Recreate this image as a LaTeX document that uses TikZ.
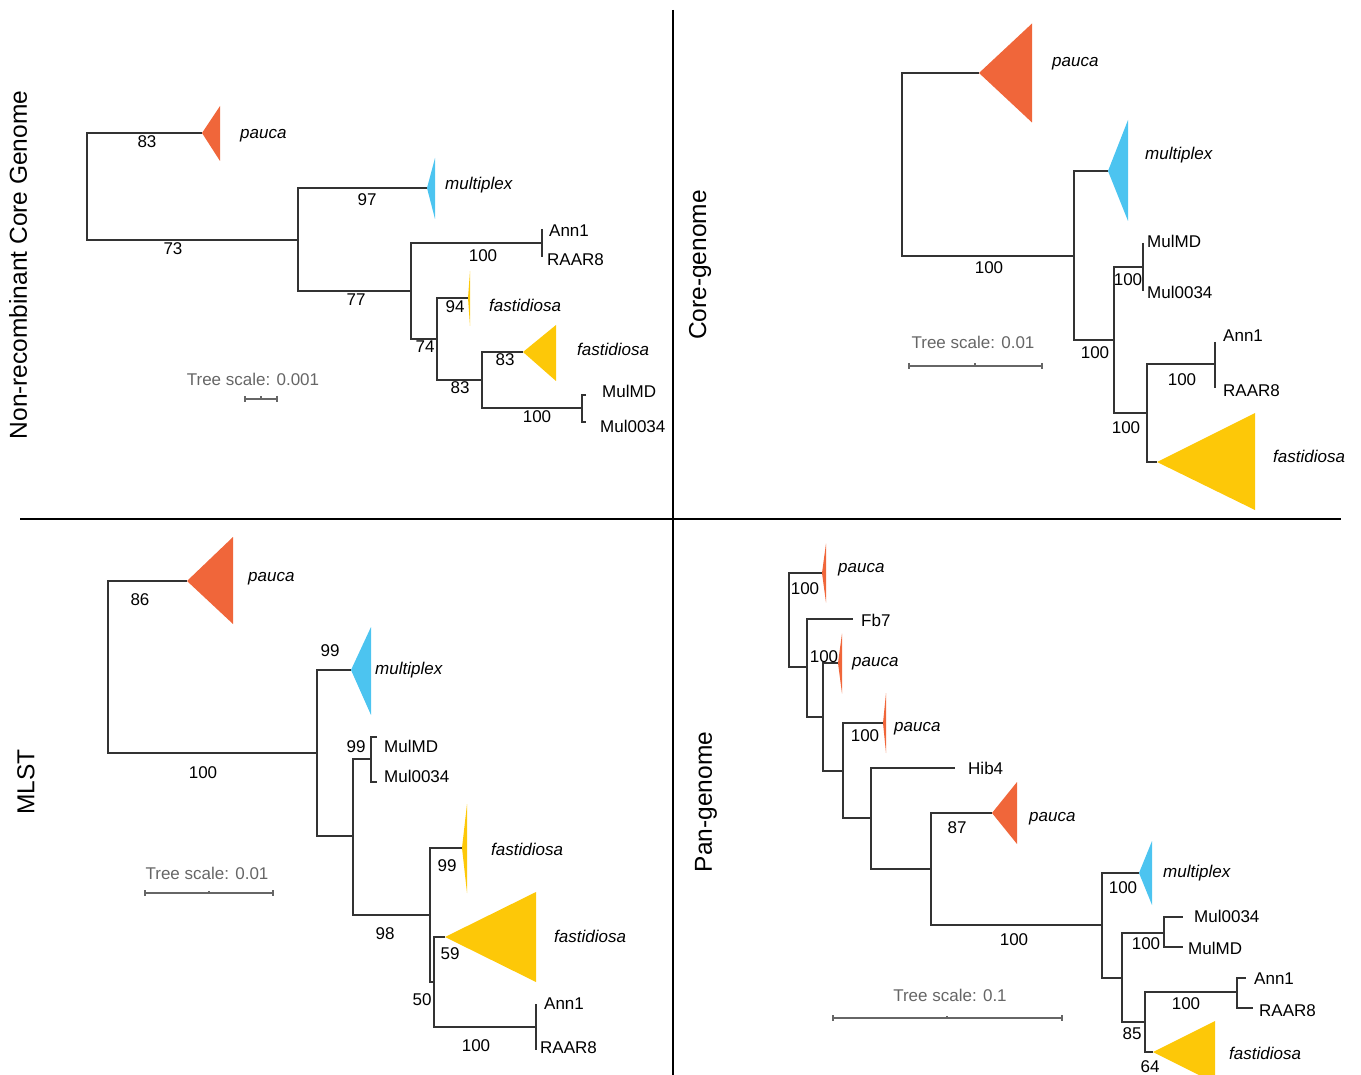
\documentclass[tikz,border=0pt]{standalone}
\usepackage{fontspec}
\setmainfont{Liberation Sans}
\definecolor{cpau}{HTML}{F0663A}
\definecolor{cmul}{HTML}{4CC4F0}
\definecolor{cfas}{HTML}{FDC808}
\tikzset{
 br/.style={draw=black!80, line width=1.4pt},
 lbl/.style={font=\fontsize{17}{17}\selectfont, inner sep=0pt, text height=12pt, text depth=0pt},
 leaf/.style={lbl, anchor=west},
 clade/.style={leaf, font=\fontsize{17}{17}\selectfont\itshape},
 bs/.style={lbl},
 scl/.style={lbl, text=black!60},
 sbar/.style={draw=black!60, line width=1.2pt},
 ttl/.style={font=\fontsize{24.5}{24.5}\selectfont, rotate=90, inner sep=0pt},
 divline/.style={draw=black, line width=1.8pt}
}
\begin{document}
\begin{tikzpicture}[x=1pt,y=-1pt]
\useasboundingbox (0,0) rectangle (1361,1075);
\begin{scope}
\clip (0,0) rectangle (1361,1075);
% ---------- dividers
\coordinate (v1) at (673,10); \coordinate (v2) at (673,1075);
\coordinate (h1) at (20,519); \coordinate (h2) at (1341,519);
\draw[divline] (v1) -- (v2);
\draw[divline] (h1) -- (h2);

% ================= Q1: Non-recombinant core genome
\node[ttl] (t1) at (18,265) {Non-recombinant Core Genome};
\coordinate (a0) at (87,186);
\coordinate (a1) at (202,133);
\coordinate (a2) at (298,240);
\coordinate (a3) at (427,188);
\coordinate (a4) at (411,291);
\coordinate (a5) at (542,243);
\coordinate (a6) at (437,339);
\coordinate (a7) at (468,298);
\coordinate (a8) at (482,380);
\coordinate (a9) at (523,352);
\coordinate (a10) at (582,408);
\draw[br] (a0) |- (a1) (a0) |- (a2) (a2) |- (a3) (a2) |- (a4)
 (a4) |- (a5) (a4) |- (a6) (a6) |- (a7) (a6) |- (a8) (a8) |- (a9) (a8) |- (a10);
\draw[br] (a5) ++(0,-14) -- ++(0,28);
\draw[br] (a10) ++(4,-13) -- ++(-4,0) -- ++(0,27) -- ++(4,0);
\fill[cpau] (a1) -- ++(18,-27) -- ++(0,55) -- cycle;
\fill[cmul] (a3) -- ++(8,-30) -- ++(0,61) -- cycle;
\fill[cfas] (a7) -- ++(2,-27) -- ++(0,55) -- cycle;
\fill[cfas] (a9) -- ++(33,-27) -- ++(0,56) -- cycle;
\node[clade] (a1l) at (240,133) {pauca};
\node[bs] at (147,142) {83};
\node[bs] at (173,249) {73};
\node[clade] (a3l) at (445,184) {multiplex};
\node[bs] at (367,200) {97};
\node[bs] at (356,300) {77};
\node[leaf] (ann1a) at (549,231) {Ann1};
\node[leaf] (raara) at (547,260) {RAAR8};
\node[bs] at (483,256) {100};
\node[clade] (a7l) at (489,306) {fastidiosa};
\node[bs] at (455,307) {94};
\node[bs] at (425,347) {74};
\node[clade] (a9l) at (577,350) {fastidiosa};
\node[bs] at (505,360) {83};
\node[bs] at (460,388) {83};
\node[leaf] (mmda) at (602,392) {MulMD};
\node[leaf] (m34a) at (600,426) {Mul0034};
\node[bs] at (537,416) {100};
\node[scl] (sc1) at (253,380) {Tree scale: 0.001};
\coordinate (s1a) at (245,399); \coordinate (s1b) at (277,399); \coordinate (s1m) at (261,399);
\draw[sbar] (s1a) -- (s1b) (s1a) ++(0,-3) -- ++(0,6) (s1b) ++(0,-3) -- ++(0,6) (s1m) -- ++(0,-2.5);

% ================= Q2: Core genome
\node[ttl] (t2) at (700,265) {Core-genome};
\coordinate (b0) at (902,165);
\coordinate (b1) at (979,73);
\coordinate (b2) at (1074,256);
\coordinate (b3) at (1108,171);
\coordinate (b4) at (1114,340);
\coordinate (b5) at (1143,267);
\coordinate (b6) at (1147,413);
\coordinate (b7) at (1215,364);
\coordinate (b8) at (1157,462);
\draw[br] (b0) |- (b1) (b0) |- (b2) (b2) |- (b3) (b2) |- (b4)
 (b4) |- (b5) (b4) |- (b6) (b6) |- (b7) (b6) |- (b8);
\draw[br] (b5) ++(0,-24) -- ++(0,48);
\draw[br] (b7) ++(0,-22) -- ++(0,46);
\fill[cpau] (b1) -- ++(53,-49.5) -- ++(0,99) -- cycle;
\fill[cmul] (b3) -- ++(20,-51) -- ++(0,101) -- cycle;
\fill[cfas] (b8) -- ++(98,-49) -- ++(0,97) -- cycle;
\node[clade] (b1l) at (1052,61) {pauca};
\node[clade] (b3l) at (1145,154) {multiplex};
\node[bs] at (989,268) {100};
\node[leaf] (mmdb) at (1147,242) {MulMD};
\node[leaf] (m34b) at (1147,293) {Mul0034};
\node[bs] at (1128,280) {100};
\node[bs] at (1095,353) {100};
\node[leaf] (ann1b) at (1223,336) {Ann1};
\node[leaf] (raarb) at (1223,390) {RAAR8};
\node[bs] at (1182,379) {100};
\node[bs] at (1126,427) {100};
\node[clade] (b8l) at (1273,456) {fastidiosa};
\node[scl] (sc2) at (973,343) {Tree scale: 0.01};
\coordinate (s2a) at (909,366); \coordinate (s2b) at (1042,366); \coordinate (s2m) at (975,366);
\draw[sbar] (s2a) -- (s2b) (s2a) ++(0,-3) -- ++(0,6) (s2b) ++(0,-3) -- ++(0,6) (s2m) -- ++(0,-2.5);

% ================= Q3: MLST
\node[ttl] (t3) at (26,782) {MLST};
\coordinate (c0) at (108,667);
\coordinate (c1) at (187,581);
\coordinate (c2) at (317,753);
\coordinate (c3) at (351,670);
\coordinate (c4) at (353,836);
\coordinate (c5) at (371,759);
\coordinate (c6) at (430,915);
\coordinate (c7) at (462,848);
\coordinate (c8) at (434,982);
\coordinate (c9) at (445,937);
\coordinate (c10) at (536,1027);
\draw[br] (c0) |- (c1) (c0) |- (c2) (c2) |- (c3) (c2) |- (c4)
 (c4) |- (c5) (c4) |- (c6) (c6) |- (c7) (c6) |- (c8) (c8) |- (c9) (c8) |- (c10);
\draw[br] (c5) ++(6,-22) -- ++(-6,0) -- ++(0,45) -- ++(6,0);
\draw[br] (c10) ++(0,-23) -- ++(0,46);
\fill[cpau] (c1) -- ++(46,-44) -- ++(0,87) -- cycle;
\fill[cmul] (c3) -- ++(20,-43) -- ++(0,88) -- cycle;
\fill[cfas] (c7) -- ++(5,-44) -- ++(0,89) -- cycle;
\fill[cfas] (c9) -- ++(91,-45) -- ++(0,90) -- cycle;
\node[clade] (c1l) at (248,575) {pauca};
\node[bs] at (140,599) {86};
\node[bs] at (203,772) {100};
\node[clade] (c3l) at (375,668) {multiplex};
\node[bs] at (330,650) {99};
\node[leaf] (mmdc) at (384,746) {MulMD};
\node[leaf] (m34c) at (384,776) {Mul0034};
\node[bs] at (356,746) {99};
\node[bs] at (385,933) {98};
\node[clade] (c7l) at (491,849) {fastidiosa};
\node[bs] at (447,865) {99};
\node[bs] at (422,999) {50};
\node[clade] (c9l) at (554,936) {fastidiosa};
\node[bs] at (450,953) {59};
\node[leaf] (ann1c) at (544,1003) {Ann1};
\node[leaf] (raarc) at (540,1047) {RAAR8};
\node[bs] at (476,1045) {100};
\node[scl] (sc3) at (207,873) {Tree scale: 0.01};
\coordinate (s3a) at (145,893); \coordinate (s3b) at (273,893); \coordinate (s3m) at (209,893);
\draw[sbar] (s3a) -- (s3b) (s3a) ++(0,-3) -- ++(0,6) (s3b) ++(0,-3) -- ++(0,6) (s3m) -- ++(0,-2.5);

% ================= Q4: Pan-genome
\node[ttl] (t4) at (706,802) {Pan-genome};
\coordinate (d0) at (789,620);
\coordinate (d1) at (822,573);
\coordinate (d2) at (807,667);
\coordinate (d3) at (853,619);
\coordinate (d4) at (823,717);
\coordinate (d5) at (838,663);
\coordinate (d6) at (843,771);
\coordinate (d7) at (883,723);
\coordinate (d8) at (871,818);
\coordinate (d9) at (955,768);
\coordinate (d10) at (931,869);
\coordinate (d11) at (992,813);
\coordinate (d12) at (1102,925);
\coordinate (d13) at (1139,873);
\coordinate (d14) at (1122,978);
\coordinate (d15) at (1164,933);
\coordinate (d16) at (1145,1022);
\coordinate (d17) at (1183,917);
\coordinate (d18) at (1183,947);
\coordinate (d19) at (1237,992);
\coordinate (d20) at (1153,1052);
\coordinate (d21) at (1246,978);
\coordinate (d22) at (1253,1008);
\draw[br] (d0) |- (d1) (d0) |- (d2) (d2) |- (d3) (d2) |- (d4)
 (d4) |- (d5) (d4) |- (d6) (d6) |- (d7) (d6) |- (d8) (d8) |- (d9) (d8) |- (d10)
 (d10) |- (d11) (d10) |- (d12) (d12) |- (d13) (d12) |- (d14)
 (d14) |- (d15) (d14) |- (d16) (d15) |- (d17) (d15) |- (d18)
 (d16) |- (d19) (d16) |- (d20) (d19) |- (d21) (d19) |- (d22);
\fill[cpau] (d1) -- ++(4,-29.5) -- ++(0,59) -- cycle;
\fill[cpau] (d5) -- ++(4,-29.5) -- ++(0,60) -- cycle;
\fill[cpau] (d7) -- ++(3,-30) -- ++(0,60) -- cycle;
\fill[cpau] (d11) -- ++(25,-31) -- ++(0,62) -- cycle;
\fill[cmul] (d13) -- ++(13,-32) -- ++(0,64) -- cycle;
\fill[cfas] (d20) -- ++(62,-31) -- ++(0,62) -- cycle;
\node[clade] (d1l) at (838,566) {pauca};
\node[bs] at (805,588) {100};
\node[leaf] (fb7) at (861,620) {Fb7};
\node[clade] (d5l) at (852,660) {pauca};
\node[bs] at (824,656) {100};
\node[clade] (d7l) at (894,725) {pauca};
\node[bs] at (865,735) {100};
\node[leaf] (hib4) at (968,768) {Hib4};
\node[clade] (d11l) at (1029,815) {pauca};
\node[bs] at (957,827) {87};
\node[bs] at (1014,939) {100};
\node[clade] (d13l) at (1163,871) {multiplex};
\node[bs] at (1123,887) {100};
\node[leaf] (m34d) at (1194,916) {Mul0034};
\node[leaf] (mmdd) at (1188,948) {MulMD};
\node[bs] at (1146,943) {100};
\node[bs] at (1132,1033) {85};
\node[leaf] (ann1d) at (1254,978) {Ann1};
\node[leaf] (raard) at (1259,1010) {RAAR8};
\node[bs] at (1186,1003) {100};
\node[clade] (d20l) at (1229,1053) {fastidiosa};
\node[bs] at (1150,1066) {64};
\node[scl] (sc4) at (950,995) {Tree scale: 0.1};
\coordinate (s4a) at (833,1018); \coordinate (s4b) at (1062,1018); \coordinate (s4m) at (947,1018);
\draw[sbar] (s4a) -- (s4b) (s4a) ++(0,-3) -- ++(0,6) (s4b) ++(0,-3) -- ++(0,6) (s4m) -- ++(0,-2.5);
\end{scope}
\end{tikzpicture}
\end{document}
